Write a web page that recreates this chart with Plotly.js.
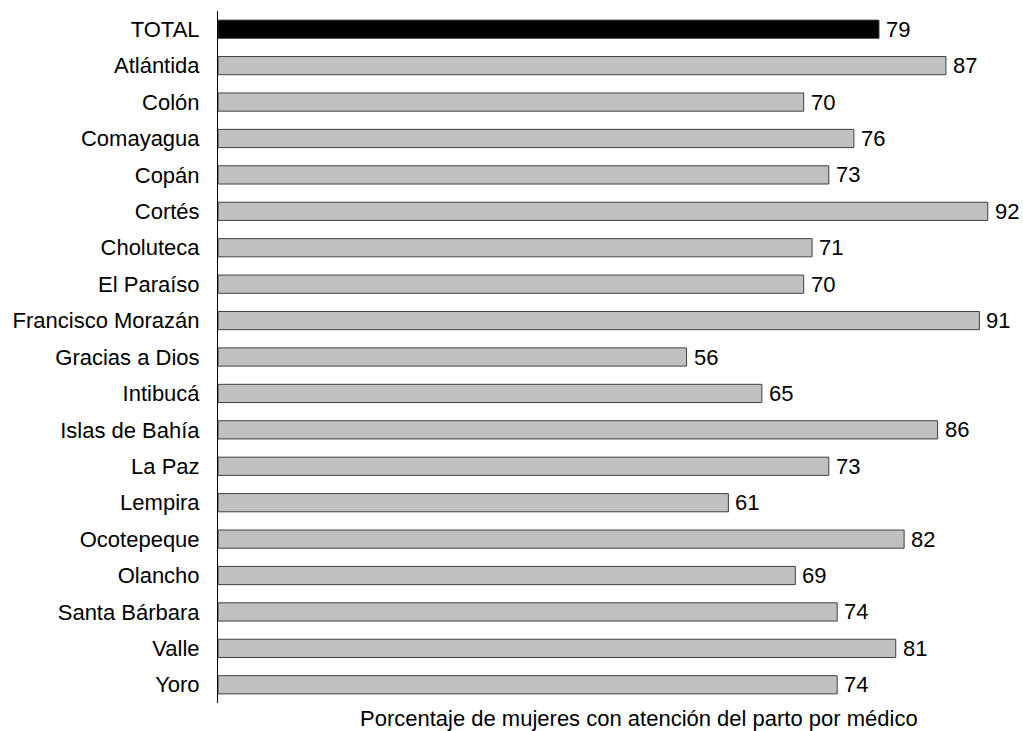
<!DOCTYPE html>
<html>
<head>
<meta charset="utf-8">
<script src="https://cdn.plot.ly/plotly-3.0.1.min.js"></script>
<style>html,body{margin:0;padding:0;background:#fff;}#chart{width:1023px;height:731px;}</style>
</head>
<body>
<div id="chart"></div>
<script>
const categories = ["TOTAL","Atlántida","Colón","Comayagua","Copán","Cortés","Choluteca","El Paraíso","Francisco Morazán","Gracias a Dios","Intibucá","Islas de Bahía","La Paz","Lempira","Ocotepeque","Olancho","Santa Bárbara","Valle","Yoro"];
const values = [79,87,70,76,73,92,71,70,91,56,65,86,73,61,82,69,74,81,74];
const axisTitle = "Porcentaje de mujeres con atención del parto por médico";

const FONT = "'Liberation Sans', Arial, sans-serif";
const colors = categories.map(c => c === "TOTAL" ? "#000000" : "#c0c0c0");

const trace = {
  type: "bar",
  orientation: "h",
  x: values,
  y: categories,
  marker: {color: colors, line: {color: "#404040", width: 1}},
  width: 0.5,
  hoverinfo: "x+y"
};

const annotations = categories.map((c, i) => ({
  x: values[i], y: c, xref: "x", yref: "y",
  text: String(values[i]), showarrow: false,
  xanchor: "left", yanchor: "middle", xshift: 5, yshift: 0,
  font: {family: FONT, size: 22, color: "#000"}
}));
annotations.push({
  xref: "paper", yref: "paper", x: 0.525, y: 0, xanchor: "center", yanchor: "top",
  yshift: -1, showarrow: false, text: axisTitle,
  font: {family: FONT, size: 22, color: "#000"}
});

const layout = {
  width: 1023, height: 731,
  margin: {l: 218, r: 3, t: 11, b: 28},
  paper_bgcolor: "#fff", plot_bgcolor: "#fff",
  showlegend: false,
  font: {family: FONT, size: 22, color: "#000"},
  xaxis: {range: [0, 95.85], showgrid: false, zeroline: false, showline: false, showticklabels: false, ticks: ""},
  yaxis: {autorange: "reversed", showgrid: false, zeroline: false, showline: true, linecolor: "#000", linewidth: 1,
          ticks: "", ticklabelstandoff: 13, tickfont: {family: FONT, size: 22, color: "#000"}},
  annotations: annotations
};

Plotly.newPlot("chart", [trace], layout, {displayModeBar: false, staticPlot: true});
</script>
</body>
</html>
